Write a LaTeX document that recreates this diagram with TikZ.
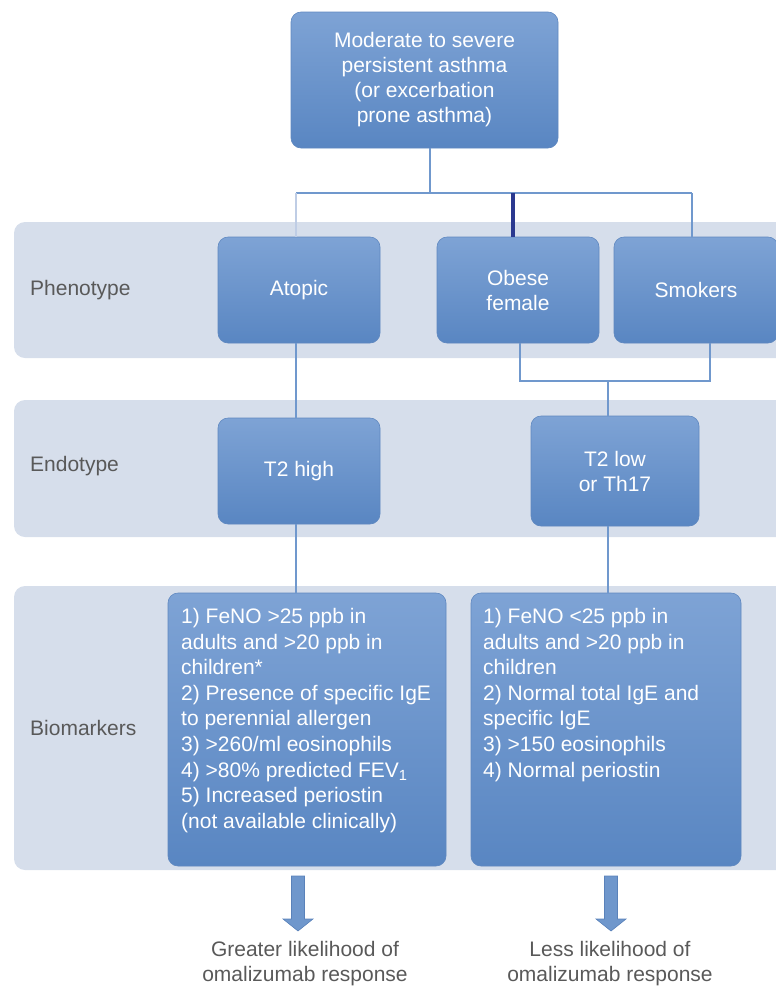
\documentclass[tikz,border=0pt]{standalone}
\usepackage{fontspec}
\setmainfont{Liberation Sans}
\definecolor{bandcol}{HTML}{D6DEEB}
\definecolor{boxtop}{HTML}{7EA3D5}
\definecolor{boxbot}{HTML}{5986C2}
\definecolor{boxedge}{HTML}{5F88C0}
\definecolor{linecol}{HTML}{7098CD}
\definecolor{fainttop}{HTML}{BFCDE5}
\definecolor{navy}{HTML}{2B3990}
\definecolor{labelgray}{HTML}{595959}
\definecolor{arrowcol}{HTML}{6F97CC}
\definecolor{arrowedge}{HTML}{5A82BA}
\newcommand{\boxfont}{\fontsize{21}{25}\selectfont}
\newcommand{\biofont}{\fontsize{21}{25.6}\selectfont}
\begin{document}
\begin{tikzpicture}[x=1pt,y=-1pt,
  band/.style={fill=bandcol, draw=none, rounded corners=11pt},
  box/.style={rounded corners=10pt, top color=boxtop, bottom color=boxbot,
    draw=boxedge, line width=0.6pt, text=white, font=\boxfont, align=center, inner sep=0pt},
  biotext/.style={text=white, font=\biofont, align=left, inner sep=0pt, anchor=north west},
  rowlabel/.style={text=labelgray, font=\boxfont, anchor=west, inner sep=0pt},
  outcome/.style={text=labelgray, font=\boxfont, align=center, inner sep=0pt},
  conn/.style={draw=linecol, line width=1.8pt},
  blockarrow/.style={fill=arrowcol, draw=arrowedge, line width=0.6pt, line join=miter}
]
\useasboundingbox (0,0) rectangle (776,986);
\clip (0,0) rectangle (776,986);

% bands
\path[band] (14,222) rectangle (800,358);
\path[band] (14,400) rectangle (800,537);
\path[band] (14,586) rectangle (800,870);

% row labels
\node[rowlabel] (lphen) at (30,290) {Phenotype};
\node[rowlabel] (lendo) at (30,466) {Endotype};
\node[rowlabel] (lbio) at (30,728) {Biomarkers};

% boxes
\node[box, minimum width=267pt, minimum height=136pt] (top) at (424.5,80)
  {Moderate to severe\\persistent asthma\\(or excerbation\\prone asthma)};
\node[box, minimum width=162pt, minimum height=106pt] (atopic) at (299,290) {Atopic};
\node[box, minimum width=162pt, minimum height=106pt] (obese) at (518,290) {Obese\\female};
\node[box, minimum width=164pt, minimum height=106pt] (smokers) at (696,290) {Smokers};
\node[box, minimum width=162pt, minimum height=106pt] (t2high) at (299,471) {T2 high};
\node[box, minimum width=168pt, minimum height=110pt] (t2low) at (615,471) {T2 low\\or Th17};
\node[box, minimum width=278pt, minimum height=273pt] (bioL) at (307,729.5) {};
\node[box, minimum width=270pt, minimum height=273pt] (bioR) at (606,729.5) {};

\node[biotext] (bioLtext) at (181,608)
  {1) FeNO >25 ppb in\\adults and >20 ppb in\\children*\\2) Presence of specific IgE\\to perennial allergen\\3) >260/ml eosinophils\\4) >80\% predicted FEV\textsubscript{1}\\5) Increased periostin\\(not available clinically)};
\node[biotext] (bioRtext) at (483,608)
  {1) FeNO <25 ppb in\\adults and >20 ppb in\\children\\2) Normal total IgE and\\specific IgE\\3) >150 eosinophils\\4) Normal periostin};

% connectors top -> phenotypes
\coordinate (ts) at (430,148);
\coordinate (hbar) at (430,193);
\coordinate (hl) at (296,193);
\coordinate (hr) at (692,193);
\coordinate (hm) at (513,193);
\draw[conn] (ts) -- (hbar);
\draw[conn] (hl) -- (hr);
\draw[draw=fainttop, line width=1.2pt] (hl) -- (hl |- atopic.north);
\draw[draw=navy, line width=3.6pt] (hm) -- (hm |- obese.north);
\draw[conn] (hr) -- (hr |- smokers.north);

% phenotype -> endotype
\draw[conn] (atopic.south -| 296,0) -- (t2high.north -| 296,0);
\coordinate (j2) at (608,381);
\draw[conn] (obese.south -| 520,0) |- (j2) -| (smokers.south -| 710,0);
\draw[conn] (j2) -- (j2 |- t2low.north);

% endotype -> biomarkers
\draw[conn] (t2high.south -| 296,0) -- (bioL.north -| 296,0);
\draw[conn] (t2low.south -| 608,0) -- (bioR.north -| 608,0);

% block arrows
\coordinate (a1) at (298,876);
\coordinate (a2) at (611,876);
\draw[blockarrow] (a1) ++(-6.5,0) -- ++(13,0) -- ++(0,43) -- ++(8.5,0) -- ++(-15,12) -- ++(-15,-12) -- ++(8.5,0) -- cycle;
\draw[blockarrow] (a2) ++(-6.5,0) -- ++(13,0) -- ++(0,43) -- ++(8.5,0) -- ++(-15,12) -- ++(-15,-12) -- ++(8.5,0) -- cycle;

% outcomes
\node[outcome] (outL) at (305,964) {Greater likelihood of\\omalizumab response};
\node[outcome] (outR) at (610,964) {Less likelihood of\\omalizumab response};
\end{tikzpicture}
\end{document}
